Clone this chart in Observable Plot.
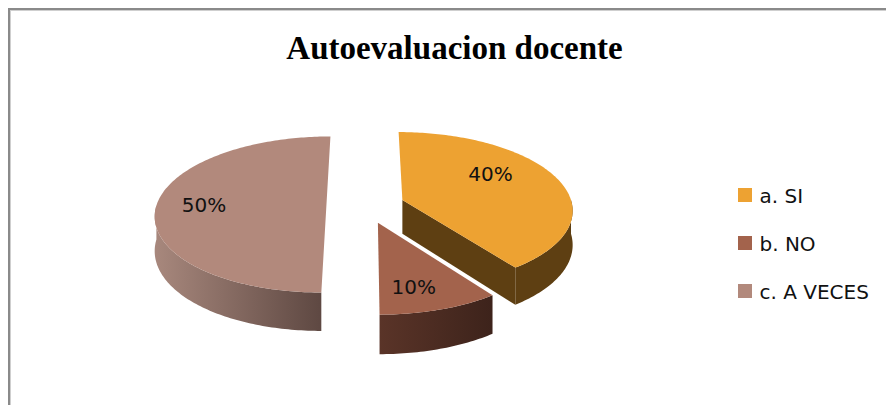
<!DOCTYPE html>
<html><head><meta charset="utf-8">
<script src="https://cdn.jsdelivr.net/npm/d3@7"></script>
<script src="https://cdn.jsdelivr.net/npm/@observablehq/plot@0.6"></script>
<style>
body{margin:0;background:#fff;}
#wrap{position:relative;width:886px;height:405px;overflow:hidden;}
#wrap svg{position:absolute;left:0;top:0;}
#frame{position:absolute;left:8px;top:8px;width:1000px;height:600px;border-top:2px solid #8a8a8a;border-left:2px solid #8a8a8a;box-shadow:inset 1px 1px 0 #cfcfcf;pointer-events:none;}
</style></head>
<body><div id="wrap"><div id="frame"></div></div>
<script>
// ---- data ----
const categories = ["a. SI", "b. NO", "c. A VECES"];
const values = [40, 10, 50];
const pctLabels = ["40%", "10%", "50%"];
const chartTitle = "Autoevaluacion docente";

// ---- styles ----
const topColors = ["#EDA232", "#A3634C", "#B2897C"];
const sideFills = ["#5E3F12", "url(#gNO)", "url(#gVEC)"];
const wallFills = ["#5E3F12", "#4a2b21", "#7a6058"];

// ---- layout: 3D projection & label placement ----
const W = 886, H = 405;
const cx = 365, cy = 205, B = 170, A = 77, P = 0.115, DEPTH = 34, EXPLODE = 0.23;
const labelRadius = [0.65, 0.75, 0.72];
const labelTurnDeg = [-14, 4, 0];
function proj(X, Z, down) {
  const s = 1 / (1 + P * Z);
  return {x: cx + B * X * s, y: cy - A * Z * s + DEPTH * down * s};
}

const arcs = d3.pie().sort(null).startAngle(0).endAngle(2 * Math.PI)(values);
const slices = arcs.map((a, i) => {
  const mid = (a.startAngle + a.endAngle) / 2;
  return {i, cat: categories[i], label: pctLabels[i], a0: a.startAngle, a1: a.endAngle, mid,
          ox: EXPLODE * Math.sin(mid), oz: EXPLODE * Math.cos(mid)};
});
function pt(s, t, r, down) { return proj(s.ox + r * Math.sin(t), s.oz + r * Math.cos(t), down); }
function arcPts(s, t0, t1, down) {
  const n = Math.max(2, Math.ceil((t1 - t0) / (Math.PI / 180)));
  return d3.range(n + 1).map(k => pt(s, t0 + (t1 - t0) * k / n, 1, down));
}

// build polygons, back to front
const polys = [];
[...slices].sort((a, b) => b.oz - a.oz).forEach(s => {
  const lo = Math.max(s.a0, Math.PI / 2), hi = Math.min(s.a1, 3 * Math.PI / 2);
  if (Math.sin(s.a1) > 0.05) polys.push({fill: wallFills[s.i], pts: [pt(s, s.a1, 0, 0), pt(s, s.a1, 1, 0), pt(s, s.a1, 1, 1), pt(s, s.a1, 0, 1)]});
  if (Math.sin(s.a0) < -0.05) polys.push({fill: wallFills[s.i], pts: [pt(s, s.a0, 0, 0), pt(s, s.a0, 1, 0), pt(s, s.a0, 1, 1), pt(s, s.a0, 0, 1)]});
  if (hi > lo) polys.push({fill: sideFills[s.i], pts: arcPts(s, lo, hi, 0).concat(arcPts(s, lo, hi, 1).reverse())});
  polys.push({fill: topColors[s.i], pts: [pt(s, 0, 0, 0)].concat(arcPts(s, s.a0, s.a1, 0))});
});

function labelPos(s) { return pt(s, s.mid + labelTurnDeg[s.i] * Math.PI / 180, labelRadius[s.i], 0); }

const defs = () => {
  const d = d3.create("svg:defs");
  const g1 = d.append("linearGradient").attr("id", "gNO");
  g1.append("stop").attr("offset", "0%").attr("stop-color", "#5a3428");
  g1.append("stop").attr("offset", "100%").attr("stop-color", "#3d231b");
  const g2 = d.append("linearGradient").attr("id", "gVEC");
  g2.append("stop").attr("offset", "0%").attr("stop-color", "#a8887d");
  g2.append("stop").attr("offset", "100%").attr("stop-color", "#5e4842");
  return d.node();
};

const legendX = 738, legendY = 188, legendStep = 48, sw = 14;

const plot = Plot.plot({
  width: W, height: H, margin: 0,
  style: {background: "transparent"},
  x: {domain: [0, W], range: [0, W], axis: null},
  y: {domain: [0, H], range: [0, H], axis: null},
  color: {domain: categories, range: topColors},
  marks: [
    defs,
    ...polys.map(p => Plot.line(p.pts, {x: "x", y: "y", fill: p.fill, stroke: "none", curve: "linear-closed"})),
    Plot.text(slices, {x: s => labelPos(s).x, y: s => labelPos(s).y, text: "label",
      fontFamily: "DejaVu Sans", fontSize: 20, fill: "#111", textAnchor: "middle", lineAnchor: "middle"}),
    Plot.text([chartTitle], {x: () => 454, y: () => 48, text: d => d, fontFamily: "Liberation Serif",
      fontWeight: "bold", fontSize: 33, fill: "#000", textAnchor: "middle", lineAnchor: "middle"}),
    Plot.rect(categories, {x1: () => legendX, x2: () => legendX + sw,
      y1: (d, i) => legendY + i * legendStep, y2: (d, i) => legendY + i * legendStep + sw, fill: d => d}),
    Plot.text(categories, {x: () => legendX + sw + 7, y: (d, i) => legendY + i * legendStep + sw / 2 + 1,
      text: d => d, textAnchor: "start", lineAnchor: "middle", fontFamily: "DejaVu Sans", fontSize: 20, fill: "#111"})
  ]
});
document.getElementById("wrap").prepend(plot);
</script></body></html>
